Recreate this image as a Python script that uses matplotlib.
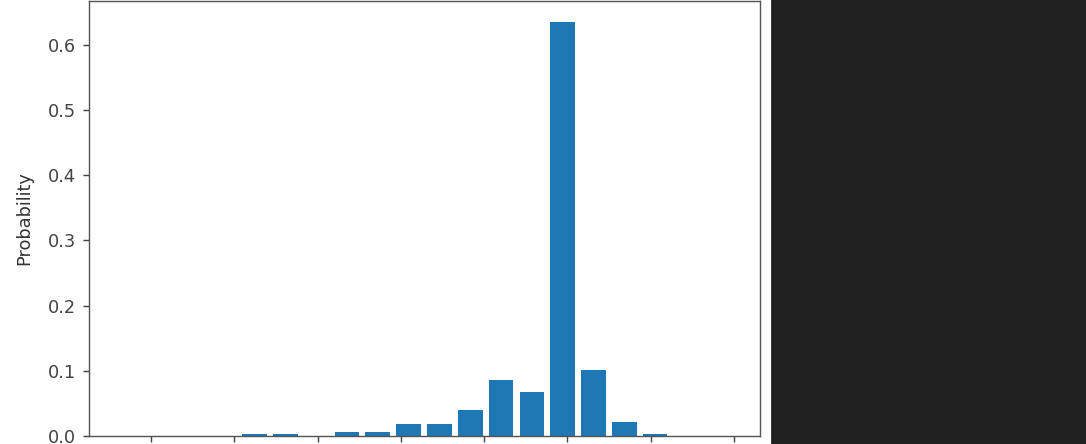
import matplotlib.pyplot as plt
import matplotlib.patches as patches
import numpy as np

# bin centres (tick labels are cut off in the reference; spacing)
bin_centers = np.round(-0.237 + 0.37 * np.arange(20), 3)
probs = [0.0, 0.0, 0.0, 0.0, 0.003, 0.003, 0.0, 0.006, 0.006, 0.018,
         0.018, 0.040, 0.086, 0.068, 0.635, 0.101, 0.021, 0.003, 0.0, 0.0]
bar_width = 0.37 * 0.8

plt.rcParams["text.color"] = "#333333"
plt.rcParams["axes.labelcolor"] = "#333333"
plt.rcParams["xtick.color"] = "#444444"
plt.rcParams["ytick.color"] = "#444444"
plt.rcParams["axes.edgecolor"] = "#555555"

dpi = 128
fig = plt.figure(figsize=(1086 / dpi, 444 / dpi), dpi=dpi)
ax = fig.add_axes([88.5 / 1086, 8 / 444, 671 / 1086, 435 / 444])

ax.bar(bin_centers, probs, width=bar_width, color="#1f77b4")
ax.set_ylabel("Probability", labelpad=8)
# x tick labels fall below the visible part of the screenshot
ax.tick_params(axis="x", labelbottom=False)

# dark panel on the right side of the screenshot
fig.patches.append(patches.Rectangle((772 / 1086, 0), 1 - 772 / 1086, 1,
                                     transform=fig.transFigure,
                                     color="#212121", zorder=-1))

fig.savefig("out.png", dpi=dpi)
